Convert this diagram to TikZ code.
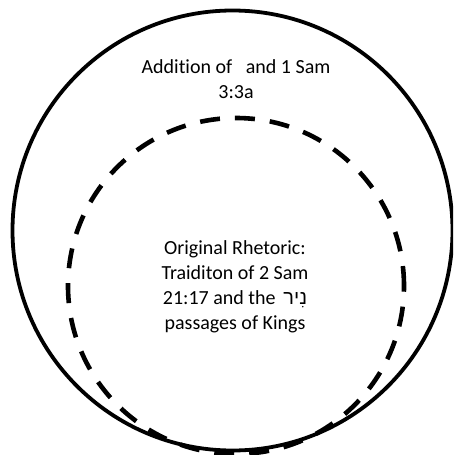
\documentclass[tikz,border=0pt]{standalone}
\usepackage{fontspec}
\setmainfont{Carlito}[RawFeature={-liga}]
\newfontfamily\hebrewfont[Script=Hebrew]{Liberation Sans}
\TeXXeTstate=1
\begin{document}
\begin{tikzpicture}[x=1pt,y=-1pt,
  outerring/.style={draw=black,line width=3.8pt},
  innerring/.style={draw=black,line width=4.6pt,dash pattern=on 20pt off 15pt},
  label/.style={align=center,font=\fontsize{20}{25}\selectfont,inner sep=0pt}]
  \useasboundingbox (0,0) rectangle (453,455);
  \clip (0,0) rectangle (453,455);
  \node[circle,outerring,minimum size=440pt,inner sep=0pt] (outer) at (232.5,230.5) {};
  \node[circle,innerring,minimum size=336pt,inner sep=0pt] (inner) at (236,286) {};
  \node[label] (addition) at (236,79) {Addition of \ \ and 1 Sam\\3:3a};
  \node[label] (original) at (235,287) {Original Rhetoric:\\Traiditon of 2 Sam\\21:17 and the\ \,{\hebrewfont\beginR נִיר\endR}\\passages of Kings};
\end{tikzpicture}
\end{document}
